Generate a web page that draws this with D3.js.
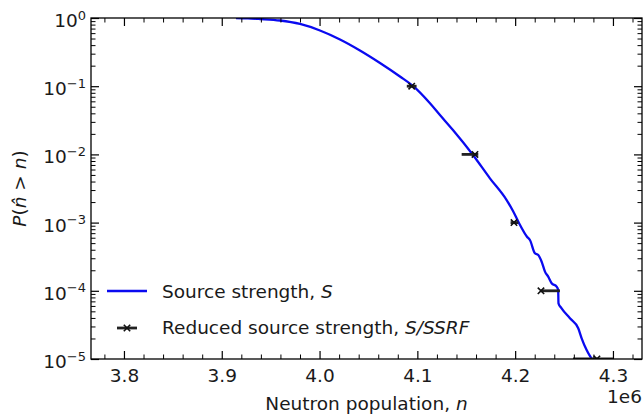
<!DOCTYPE html>
<html><head><meta charset="utf-8">
<script src="https://cdn.jsdelivr.net/npm/d3@7"></script>
<style>body{margin:0;background:#fff} text{font-family:"DejaVu Sans",sans-serif;fill:#1a1a1a}</style>
</head><body>
<svg id="c" width="643" height="416"></svg>
<script>
// ---- data (neutron population in units of 1e6) ----
const curveN = [3.9145, 3.9268, 3.9391, 3.9595, 3.9800, 4.0004, 4.0209, 4.0413, 4.0618, 4.0822, 4.0955,
  4.1129, 4.1231, 4.1364, 4.1569, 4.1742, 4.1913, 4.1978, 4.2039, 4.2121, 4.2151, 4.2202, 4.2236,
  4.2271, 4.2305, 4.2338, 4.2373, 4.2424, 4.2440, 4.2443, 4.2475, 4.2560, 4.2645, 4.2680, 4.2731,
  4.2782, 4.2806];
const curveP = [1.0, 0.990, 0.967, 0.919, 0.817, 0.656, 0.484, 0.334, 0.219, 0.1388, 0.1007,
  0.0561, 0.0378, 0.0228, 0.0098, 0.00446, 0.00214, 0.00148, 0.000987, 0.000621, 0.000556, 0.000355, 0.000335,
  0.000267, 0.000191, 0.000161, 0.000129, 0.000115, 0.000103, 0.0000656, 0.0000554, 0.0000396, 0.0000282, 0.0000201, 0.0000135,
  0.0000102, 0.0000095];
const errN  = [4.0942, 4.1589, 4.1988, 4.2264, 4.2836];
const errP  = [1e-1, 1e-2, 1e-3, 1e-4, 1e-5];
const errLo = [0.005, 0.0136, 0.0035, 0.0005, 0.0245];
const errHi = [0.005, 0.0034, 0.0045, 0.0194, 0.0164];
const xMajor = [3.8, 3.9, 4.0, 4.1, 4.2, 4.3];
const xTickLabels = ["3.8", "3.9", "4.0", "4.1", "4.2", "4.3"];
const yMajor = [1, 1e-1, 1e-2, 1e-3, 1e-4, 1e-5];
const yExponents = ["0", "\u22121", "\u22122", "\u22123", "\u22124", "\u22125"];
const legendLabels = [["Source strength, ", "S"], ["Reduced source strength, ", "S/SSRF"]];

const svg = d3.select("#c");
const L = 91, R = 642, T = 18, B = 359;
const FS = 18.5;
const x = d3.scaleLinear().domain([3.7663, 4.3297]).range([L, R]);
const y = d3.scaleLog().domain([1e-5, 1]).range([B, T]);

const xMinor = d3.range(3.78, 4.321, 0.02).map(v => +v.toFixed(2)).filter(v => !xMajor.some(m => Math.abs(m - v) < 1e-6));
const yMinor = [];
for (let e = -5; e < 0; e++) for (let k = 2; k <= 9; k++) yMinor.push(k * Math.pow(10, e));

svg.append("defs").append("clipPath").attr("id", "clip")
  .append("rect").attr("x", L).attr("y", T).attr("width", R - L).attr("height", B - T);

// data layers
const plot = svg.append("g").attr("clip-path", "url(#clip)");
const pts = curveN.map((n, i) => [n, curveP[i]]);
plot.append("path").datum(pts)
  .attr("d", d3.line().curve(d3.curveMonotoneX).x(d => x(d[0])).y(d => y(d[1])))
  .attr("fill", "none").attr("stroke", "#0a0af0").attr("stroke-width", 2.3).attr("stroke-linejoin", "round");

const eb = plot.append("g");
errN.forEach((n, i) => {
  eb.append("line").attr("x1", x(n - errLo[i])).attr("x2", x(n + errHi[i]))
    .attr("y1", y(errP[i])).attr("y2", y(errP[i]))
    .attr("stroke", "#222").attr("stroke-width", 2.8);
  const cx = x(n), cy = y(errP[i]), s = 3.2;
  eb.append("path").attr("d", `M${cx - s},${cy - s}L${cx + s},${cy + s}M${cx - s},${cy + s}L${cx + s},${cy - s}`)
    .attr("stroke", "#111").attr("stroke-width", 1.6);
});

// axes (ticks inward)
function styleAxis(g, w) {
  g.select(".domain").remove();
  g.selectAll(".tick line").attr("stroke", "#000").attr("stroke-width", w);
}
svg.append("g").attr("transform", `translate(0,${B})`)
  .call(d3.axisBottom(x).tickValues(xMajor).tickSize(-8).tickFormat((d, i) => xTickLabels[i]))
  .call(g => { styleAxis(g, 1.2); g.selectAll("text").attr("y", 23).attr("dy", null).attr("font-size", FS).attr("font-family", "DejaVu Sans").attr("fill", "#1a1a1a"); });
svg.append("g").attr("transform", `translate(0,${B})`)
  .call(d3.axisBottom(x).tickValues(xMinor).tickSize(-4.5).tickFormat(""))
  .call(g => styleAxis(g, 1));
svg.append("g").attr("transform", `translate(0,${T})`)
  .call(d3.axisTop(x).tickValues(xMajor).tickSize(-8).tickFormat(""))
  .call(g => styleAxis(g, 1.2));
svg.append("g").attr("transform", `translate(0,${T})`)
  .call(d3.axisTop(x).tickValues(xMinor).tickSize(-4.5).tickFormat(""))
  .call(g => styleAxis(g, 1));

const leftAx = svg.append("g").attr("transform", `translate(${L},0)`)
  .call(d3.axisLeft(y).tickValues(yMajor).tickSize(-8).tickFormat(""))
  .call(g => styleAxis(g, 1.2));
leftAx.selectAll(".tick").each(function (d, i) {
  const t = d3.select(this).append("text").attr("x", -5).attr("y", 8.5)
    .attr("text-anchor", "end").attr("font-size", FS).attr("fill", "#1a1a1a");
  t.append("tspan").text("10");
  t.append("tspan").attr("dy", -7.5).attr("font-size", 13).text(yExponents[i]);
});
svg.append("g").attr("transform", `translate(${L},0)`)
  .call(d3.axisLeft(y).tickValues(yMinor).tickSize(-4.5).tickFormat(""))
  .call(g => styleAxis(g, 1));
svg.append("g").attr("transform", `translate(${R},0)`)
  .call(d3.axisRight(y).tickValues(yMajor).tickSize(-8).tickFormat(""))
  .call(g => styleAxis(g, 1.2));
svg.append("g").attr("transform", `translate(${R},0)`)
  .call(d3.axisRight(y).tickValues(yMinor).tickSize(-4.5).tickFormat(""))
  .call(g => styleAxis(g, 1));

// frame
svg.append("rect").attr("x", L).attr("y", T).attr("width", R - L).attr("height", B - T)
  .attr("fill", "none").attr("stroke", "#000").attr("stroke-width", 1.3);

// axis labels
const xl = svg.append("text").attr("x", (L + R) / 2).attr("y", 410).attr("text-anchor", "middle").attr("font-size", FS);
xl.append("tspan").text("Neutron population, ");
xl.append("tspan").attr("font-style", "italic").text("n");
svg.append("text").attr("x", 642).attr("y", 403).attr("text-anchor", "end").attr("font-size", FS).text("1e6");

const yl = svg.append("text").attr("transform", `translate(26,${(T + B) / 2}) rotate(-90)`)
  .attr("text-anchor", "middle").attr("font-size", FS);
yl.append("tspan").attr("font-style", "italic").text("P");
yl.append("tspan").text("(");
yl.append("tspan").attr("font-style", "italic").text("n\u0302");
yl.append("tspan").text(" > ");
yl.append("tspan").attr("font-style", "italic").text("n");
yl.append("tspan").text(")");

// legend
const lg = svg.append("g");
lg.append("line").attr("x1", 107).attr("x2", 147).attr("y1", 291).attr("y2", 291)
  .attr("stroke", "#0a0af0").attr("stroke-width", 2.3);
lg.append("line").attr("x1", 117).attr("x2", 137).attr("y1", 328).attr("y2", 328)
  .attr("stroke", "#222").attr("stroke-width", 2.8);
{
  const cx = 127, cy = 328, s = 3.2;
  lg.append("path").attr("d", `M${cx - s},${cy - s}L${cx + s},${cy + s}M${cx - s},${cy + s}L${cx + s},${cy - s}`)
    .attr("stroke", "#111").attr("stroke-width", 1.6);
}
[298, 334].forEach((by, i) => {
  const t = lg.append("text").attr("x", 162).attr("y", by).attr("font-size", FS);
  t.append("tspan").text(legendLabels[i][0]);
  t.append("tspan").attr("font-style", "italic").text(legendLabels[i][1]);
});
</script>
</body></html>
